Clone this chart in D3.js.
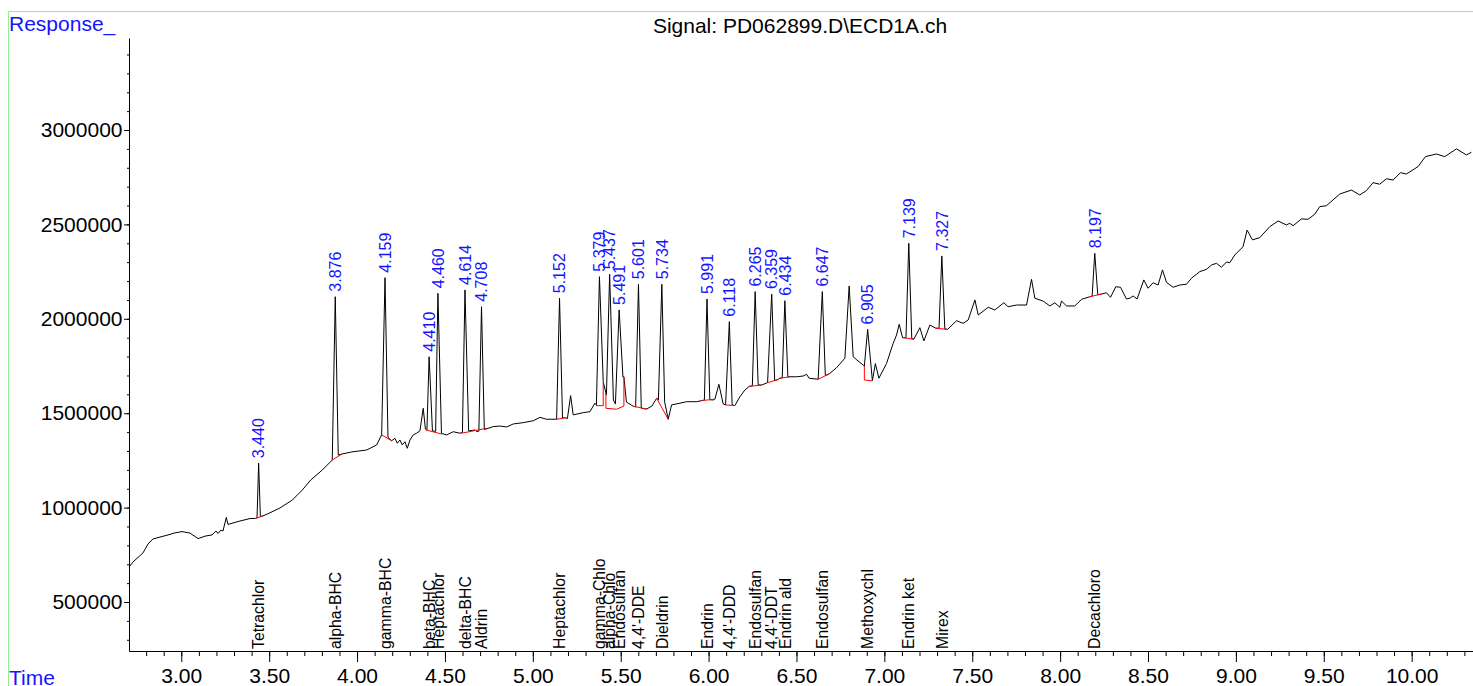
<!DOCTYPE html>
<meta charset="utf-8">
<script src="https://d3js.org/d3.v7.min.js"></script>
<style>
  body { margin: 0; background: #fff; }
  svg { display: block; font-family: "Liberation Sans", Arial, sans-serif; }
</style>
<div id="chart"></div>
<script>

// signal trace, [time (min), response]
const trace = [
  [2.7025,685000],[2.7252,712000],[2.7821,760000],[2.8106,807000],[2.839,834000],[2.8788,844000],[2.9243,855000],[2.9585,865000],
  [3.004,873000],[3.0495,865000],[3.095,836000],[3.1405,850000],[3.1746,855000],[3.1974,876000],[3.2087,863000],[3.2258,881000],
  [3.2372,876000],[3.256,948000],[3.2656,911000],[3.3339,929000],[3.3908,942000],[3.4232,943000],[3.431,946000],[3.44,1235000],
  [3.45,952000],[3.4647,956000],
  [3.4989,970000],[3.5614,998000],[3.6314,1040000],[3.6883,1093000],[3.7361,1146000],[3.802,1199000],[3.8589,1252000],[3.876,2117000],
  [3.893,1278000],[3.9141,1284000],[3.971,1295000],[4.0546,1305000],[4.1115,1332000],[4.1399,1385000],[4.159,2218000],[4.176,1372000],
  [4.1968,1354000],[4.2156,1367000],
  [4.2287,1341000],[4.244,1358000],[4.2571,1332000],[4.2725,1349000],[4.2855,1314000],[4.3009,1358000],[4.3197,1385000],[4.339,1394000],
  [4.3578,1407000],[4.3765,1526000],[4.389,1416000],[4.3976,1411000],[4.41,1799000],[4.4289,1406000],[4.447,1404000],[4.46,2135000],
  [4.4802,1393000],
  [4.5097,1385000],[4.5472,1402000],[4.5852,1394000],[4.5995,1398000],[4.614,2153000],[4.6349,1406000],[4.6707,1411000],[4.6821,1403000],
  [4.693,1405000],[4.708,2064000],[4.724,1414000],[4.7333,1416000],[4.7748,1429000],[4.8129,1432000],[4.851,1427000],[4.8885,1443000],
  [4.9454,1450000],[5.0023,1460000],
  [5.0404,1478000],[5.0785,1468000],[5.1354,1468000],[5.152,2109000],[5.169,1474000],[5.1826,1476000],[5.1968,1472000],[5.215,1593000],
  [5.2298,1491000],
  [5.2867,1503000],[5.3248,1508000],[5.3532,1553000],[5.3618,1544000],[5.379,2223000],[5.4005,1667000],[5.4187,1596000],[5.437,2236000],
  [5.4585,1570000],[5.4699,1549000],[5.491,2047000],[5.5127,1692000],[5.5183,1693000],[5.5325,1559000],[5.5712,1537000],[5.585,1533000],
  [5.601,2183000],[5.617,1527000],
  [5.6263,1525000],[5.6474,1522000],[5.6775,1538000],[5.7043,1579000],[5.7145,1570000],[5.734,2183000],[5.75,1560000],[5.7702,1468000],
  [5.7895,1544000],
  [5.8367,1553000],[5.8748,1561000],[5.9317,1561000],[5.9636,1567000],[5.976,1570000],[5.991,2105000],[6.007,1572000],[6.0244,1570000],
  [6.0358,1574000],[6.0585,1653000],
  [6.083,1549000],[6.0967,1544000],[6.118,1985000],[6.134,1545000],[6.1496,1540000],[6.178,1587000],[6.2065,1623000],[6.2309,1642000],
  [6.249,1645000],[6.265,2144000],[6.282,1650000],
  [6.3015,1649000],[6.3356,1662000],[6.359,2131000],[6.376,1672000],[6.396,1679000],[6.4056,1685000],[6.419,1688000],[6.434,2096000],
  [6.451,1692000],[6.4625,1693000],[6.5006,1693000],
  [6.5381,1697000],[6.5575,1706000],[6.5722,1685000],[6.6234,1680000],[6.647,2144000],[6.664,1700000],[6.686,1708000],[6.7281,1741000],
  [6.7753,1791000],
  [6.7998,2174000],[6.8226,1799000],[6.8436,1782000],[6.8794,1755000],[6.8862,1750000],[6.905,1944000],[6.9318,1673000],[6.9489,1763000],
  [6.9688,1685000],[7.0126,1764000],[7.0501,1870000],[7.0694,1914000],[7.0842,1971000],[7.1036,1900000],[7.111,1900000],[7.123,1900000],
  [7.139,2400000],[7.156,1895000],
  [7.1679,1892000],[7.202,1953000],[7.2248,1883000],[7.2589,1967000],[7.293,1950000],[7.311,1950000],[7.327,2333000],[7.344,1946000],
  [7.3596,1944000],[7.4108,1990000],
  [7.4483,1976000],[7.4771,1994000],[7.5152,2100000],[7.5339,2020000],[7.5908,2061000],[7.6285,2047000],[7.6798,2085000],[7.7042,2064000],
  [7.752,2073000],[7.8089,2073000],[7.8373,2209000],[7.8561,2109000],[7.9033,2094000],[7.9414,2068000],[7.9699,2085000],[7.9983,2061000],
  [8.008,2094000],[8.0364,2068000],[8.0836,2068000],[8.1218,2103000],[8.169,2117000],[8.182,2120000],[8.197,2347000],[8.214,2128000],
  [8.2355,2131000],[8.2639,2138000],
  [8.2867,2114000],[8.3168,2170000],[8.3436,2167000],[8.3777,2105000],[8.3965,2109000],[8.4153,2121000],[8.438,2105000],[8.4761,2206000],
  [8.5006,2162000],[8.529,2191000],[8.5575,2179000],[8.5825,2259000],[8.6052,2193000],[8.6428,2167000],[8.6809,2179000],[8.719,2183000],
  [8.7474,2215000],[8.7946,2250000],[8.8328,2262000],[8.8612,2285000],[8.8896,2294000],[8.9181,2273000],[8.9465,2301000],[8.9653,2297000],
  [8.9937,2338000],[9.0409,2382000],[9.0637,2470000],[9.0944,2418000],[9.1359,2430000],[9.1928,2488000],[9.24,2518000],[9.2878,2497000],
  [9.3065,2506000],[9.3253,2493000],[9.3731,2529000],[9.4106,2527000],[9.4487,2554000],[9.4771,2594000],[9.5153,2599000],[9.5909,2661000],
  [9.6575,2682000],[9.7047,2656000],[9.7428,2679000],[9.7803,2721000],[9.8184,2713000],[9.8566,2742000],[9.8941,2735000],[9.9362,2774000],
  [9.9703,2767000],[10.0363,2806000],[10.0784,2859000],[10.141,2873000],[10.1882,2859000],[10.2547,2900000],[10.3116,2868000],[10.34,2882000]
];

// integration baselines (red)
const baselines = [
  [[3.4232,943000],[3.4647,956000]],
  [[3.8589,1252000],[3.9141,1284000]],
  [[4.1399,1385000],[4.1968,1354000]],
  [[4.3919,1411000],[4.4812,1390000]],
  [[4.5949,1394000],[4.737,1420000]],
  [[5.1354,1468000],[5.1826,1476000]],
  [[5.359,1540000],[5.4005,1540000],[5.4005,1667000]],
  [[5.4158,1605000],[5.4158,1526000],[5.4767,1521000],[5.5182,1538000],[5.5182,1693000]],
  [[5.5712,1537000],[5.6474,1522000]],
  [[5.7043,1579000],[5.7702,1468000]],
  [[5.9636,1567000],[6.0358,1574000]],
  [[6.0967,1544000],[6.1496,1540000]],
  [[6.2309,1642000],[6.3015,1649000]],
  [[6.3356,1662000],[6.396,1679000]],
  [[6.4056,1685000],[6.4625,1693000]],
  [[6.6234,1680000],[6.686,1708000]],
  [[6.8862,1750000],[6.8862,1676000],[6.9318,1671000]],
  [[7.1069,1900000],[7.1679,1892000]],
  [[7.293,1950000],[7.3596,1944000]],
  [[8.169,2117000],[8.2355,2131000]]
];

// labelled peaks
const peakRT   = [3.440, 3.876, 4.159, 4.410, 4.460, 4.614, 4.708, 5.152, 5.379, 5.437, 5.491, 5.601,
                  5.734, 5.991, 6.118, 6.265, 6.359, 6.434, 6.647, 6.905, 7.139, 7.327, 8.197];
const peakApex = [1235000, 2117000, 2218000, 1799000, 2135000, 2153000, 2064000, 2109000, 2223000, 2236000, 2047000, 2183000,
                  2183000, 2105000, 1985000, 2144000, 2131000, 2096000, 2144000, 1944000, 2400000, 2333000, 2347000];
const compounds = ["Tetrachlor", "alpha-BHC", "gamma-BHC", "beta-BHC", "Heptachlor", "delta-BHC", "Aldrin", "Heptachlor",
                   "gamma-Chlo", "alpha-Chlo", "Endosulfan", "4,4'-DDE", "Dieldrin", "Endrin", "4,4'-DDD", "Endosulfan",
                   "4,4'-DDT", "Endrin ald", "Endosulfan", "Methoxychl", "Endrin ket", "Mirex", "Decachloro"];

// axis ticks
const xTicks = [3, 3.5, 4, 4.5, 5, 5.5, 6, 6.5, 7, 7.5, 8, 8.5, 9, 9.5, 10];
const yTicks = [500000, 1000000, 1500000, 2000000, 2500000, 3000000];
const title = "Signal: PD062899.D\\ECD1A.ch";

const W = 1473, H = 686;
const svg = d3.select("#chart").append("svg")
  .attr("width", W).attr("height", H);

// green frame
svg.append("path")
  .attr("d", `M8.5,${H} V11.5 H${W}`)
  .attr("fill", "none")
  .attr("stroke", "#90ee90")
  .attr("stroke-width", 1);

const x = d3.scaleLinear().domain([2.7025, 10.349]).range([129, 1473]);
const y = d3.scaleLinear().domain([240500, 3487300]).range([651, 38]);

// minor ticks
const xMinor = d3.range(28, 104).map(d => d / 10);
const yMinor = d3.range(3, 35).map(d => d * 100000);

svg.append("g")
  .attr("transform", "translate(0,651)")
  .call(d3.axisBottom(x).tickValues(xMinor).tickSize(5).tickSizeOuter(0).tickFormat(""))
  .call(g => g.select(".domain").remove());

svg.append("g")
  .attr("transform", "translate(129,0)")
  .call(d3.axisLeft(y).tickValues(yMinor).tickSize(2).tickSizeOuter(0).tickFormat(""))
  .call(g => g.select(".domain").remove());

svg.append("g")
  .attr("transform", "translate(0,651)")
  .call(d3.axisBottom(x).tickValues(xTicks).tickSize(11).tickSizeOuter(0).tickPadding(6).tickFormat(d3.format(".2f")))
  .call(g => g.selectAll("text").attr("font-size", 21).attr("font-family", "Liberation Sans"));

svg.append("g")
  .attr("transform", "translate(129,0)")
  .call(d3.axisLeft(y).tickValues(yTicks).tickSize(5).tickSizeOuter(0).tickPadding(1.5).tickFormat(d3.format("d")))
  .call(g => g.selectAll("text").attr("font-size", 21).attr("font-family", "Liberation Sans"));

svg.selectAll(".tick line, .domain").attr("stroke", "#000");

// axis titles
svg.append("text").attr("x", 9).attr("y", 30.5)
  .attr("font-size", 21).attr("fill", "#1414ff").text("Response_");
svg.append("text").attr("x", 9).attr("y", 685)
  .attr("font-size", 21).attr("fill", "#1414ff").text("Time");
svg.append("text").attr("x", 800).attr("y", 33)
  .attr("text-anchor", "middle").attr("font-size", 21).attr("fill", "#000").text(title);

// signal
svg.append("path")
  .datum(trace)
  .attr("d", d3.line().x(d => x(d[0])).y(d => y(d[1])))
  .attr("fill", "none")
  .attr("stroke", "#000")
  .attr("stroke-width", 1);

// baselines
svg.selectAll(".bl")
  .data(baselines)
  .join("path")
    .attr("class", "bl")
    .attr("d", d3.line().x(d => x(d[0])).y(d => y(d[1])))
    .attr("fill", "none")
    .attr("stroke", "#ff0000")
    .attr("stroke-width", 1);

// retention time labels
svg.selectAll(".rt")
  .data(peakRT)
  .join("text")
    .attr("class", "rt")
    .attr("transform", (d, i) => `translate(${x(d)},${y(peakApex[i]) - 5}) rotate(-90)`)
    .attr("dy", "0.36em")
    .attr("font-size", 16)
    .attr("fill", "#1414ff")
    .text(d => d3.format(".3f")(d));

// compound names
svg.selectAll(".cmp")
  .data(compounds)
  .join("text")
    .attr("class", "cmp")
    .attr("transform", (d, i) => `translate(${x(peakRT[i])},649) rotate(-90)`)
    .attr("dy", "0.36em")
    .attr("font-size", 15.8)
    .attr("fill", "#000")
    .text(d => d);

</script>
